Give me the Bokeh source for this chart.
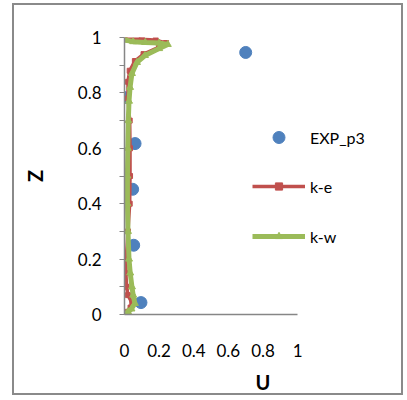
from bokeh.plotting import figure
from bokeh.models import Range1d, FixedTicker, Legend, LegendItem
from bokeh.embed import file_html
from bokeh.resources import INLINE

# ---- data ----
exp_u = [0.095, 0.053, 0.047, 0.061, 0.0, 0.70]
exp_z = [0.043, 0.25, 0.452, 0.617, 0.783, 0.946]

ke_z = [0.0, 0.01, 0.025, 0.04, 0.07, 0.1, 0.15, 0.2, 0.3, 0.4, 0.5, 0.6, 0.7,
        0.78, 0.84, 0.88, 0.915, 0.94, 0.965, 0.98, 0.99, 0.995, 1.0]
ke_u = [0.0, 0.02, 0.035, 0.045, 0.02, 0.012, 0.008, 0.01, 0.02, 0.03, 0.032, 0.032, 0.03,
        0.02, 0.02, 0.03, 0.06, 0.11, 0.2, 0.24, 0.18, 0.1, 0.0]

kw_z = [0.0, 0.01, 0.02, 0.04, 0.07, 0.1, 0.15, 0.2, 0.3, 0.4, 0.5, 0.6, 0.7,
        0.77, 0.82, 0.87, 0.91, 0.935, 0.96, 0.975, 0.98, 0.982, 0.985, 0.99]
kw_u = [0.0, 0.02, 0.04, 0.06, 0.05, 0.043, 0.033, 0.026, 0.02, 0.017, 0.017, 0.019, 0.022,
        0.026, 0.032, 0.043, 0.072, 0.118, 0.2, 0.25, 0.2, 0.12, 0.05, 0.01]

x_ticks = [0, 0.2, 0.4, 0.6, 0.8, 1.0]
y_ticks = [0, 0.2, 0.4, 0.6, 0.8, 1.0]
y_minor = [0.1, 0.3, 0.5, 0.7, 0.9]
tick_text = {0: "0", 0.2: "0.2", 0.4: "0.4", 0.6: "0.6", 0.8: "0.8", 1: "1"}

BLUE = "#4F81BD"
RED = "#C0504D"
GREEN = "#9BBB59"
GRAY = "#868686"
FONT = "Lato"

p = figure(width=391, height=392, output_backend="svg", toolbar_location=None,
           x_range=Range1d(0, 1.6), y_range=Range1d(0, 1),
           min_border_left=110, min_border_right=4,
           min_border_top=32, min_border_bottom=83)
p.outline_line_color = None
p.grid.visible = False
p.background_fill_color = "white"
p.border_fill_color = "white"
p.styles = {"border": "2px solid #8a8a8a", "margin-left": "12px", "margin-top": "3px"}

r_exp = p.scatter(exp_u, exp_z, size=12, color=BLUE, marker="circle")
r_ke_l = p.line(ke_u, ke_z, line_color=RED, line_width=3.5)
r_ke_m = p.scatter(ke_u, ke_z, marker="square", size=5, color=RED)
r_kw_l = p.line(kw_u, kw_z, line_color=GREEN, line_width=5)
r_kw_m = p.scatter(kw_u, kw_z, marker="triangle", size=7, color=GREEN)

# x axis
xa = p.xaxis[0]
xa.bounds = (0, 1)
xa.ticker = FixedTicker(ticks=x_ticks)
xa.axis_line_color = GRAY
xa.axis_line_width = 1.5
xa.major_tick_line_color = None
xa.minor_tick_line_color = None
xa.major_label_text_font = FONT
xa.major_label_text_font_size = "17px"
xa.major_label_text_color = "black"
xa.major_label_standoff = 23
xa.major_label_overrides = tick_text
xa.axis_label = "U"
xa.axis_label_text_font = FONT
xa.axis_label_text_font_size = "20px"
xa.axis_label_text_font_style = "bold"
xa.axis_label_text_color = "black"
xa.axis_label_standoff = 10

# y axis
ya = p.yaxis[0]
ya.ticker = FixedTicker(ticks=y_ticks, minor_ticks=y_minor)
ya.axis_line_color = GRAY
ya.axis_line_width = 1.5
ya.major_tick_line_color = GRAY
ya.minor_tick_line_color = GRAY
ya.major_tick_out = 5
ya.major_tick_in = 0
ya.minor_tick_out = 5
ya.minor_tick_in = 0
ya.major_label_text_font = FONT
ya.major_label_text_font_size = "17px"
ya.major_label_text_color = "black"
ya.major_label_standoff = 18
ya.major_label_overrides = tick_text
ya.axis_label = "Z"
ya.axis_label_text_font = FONT
ya.axis_label_text_font_size = "20px"
ya.axis_label_text_font_style = "bold"
ya.axis_label_text_color = "black"
ya.axis_label_standoff = 28


def style_legend(lg):
    lg.background_fill_alpha = 0
    lg.border_line_alpha = 0
    lg.padding = 0
    lg.margin = 0
    lg.glyph_width = 53
    lg.label_standoff = 5
    lg.label_text_font = FONT
    lg.label_text_font_size = "16px"
    lg.label_text_color = "black"


legend1 = Legend(items=[LegendItem(label="EXP_p3", renderers=[r_exp])],
                 location=(128, 162))
style_legend(legend1)
legend1.glyph_height = 30
legend1.label_height = 30

legend2 = Legend(items=[
    LegendItem(label="k-e", renderers=[r_ke_l, r_ke_m]),
    LegendItem(label="k-w", renderers=[r_kw_l, r_kw_m]),
], location=(128, 68))
style_legend(legend2)
legend2.glyph_height = 18
legend2.label_height = 20
legend2.spacing = 30

p.add_layout(legend1)
p.add_layout(legend2)

open("out.html", "w").write(file_html(p, INLINE))
